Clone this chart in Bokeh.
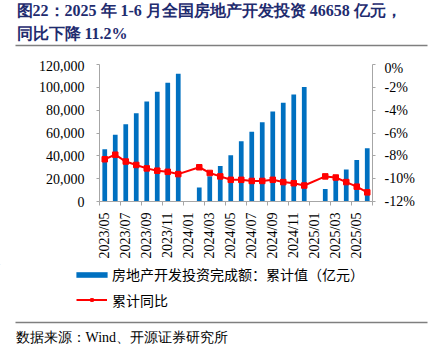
from bokeh.plotting import figure
from bokeh.layouts import column
from bokeh.models import (Range1d, LinearAxis, FixedTicker, NumeralTickFormatter,
                          CustomJSTickFormatter, Label, Legend, LegendItem,
                          ColumnDataSource)
from bokeh.embed import file_html
from bokeh.resources import INLINE

# ---------------- data ----------------
months = ["2023/05", "2023/06", "2023/07", "2023/08", "2023/09", "2023/10", "2023/11", "2023/12",
          "2024/01", "2024/02", "2024/03", "2024/04", "2024/05", "2024/06", "2024/07", "2024/08",
          "2024/09", "2024/10", "2024/11", "2024/12",
          "2025/01", "2025/02", "2025/03", "2025/04", "2025/05", "2025/06"]
invest = [45800, 58400, 67700, 77200, 87500, 96200, 104100, 112000,
          None, 12200, 22100, 31100, 40600, 52700, 61000, 69400,
          78800, 86400, 93700, 100400,
          None, 11000, 20700, 28000, 36400, 46700]
yoy = [-8.3, -7.9, -8.5, -8.8, -9.1, -9.3, -9.4, -9.6,
       None, -9.0, -9.5, -9.8, -10.1, -10.1, -10.2, -10.2,
       -10.1, -10.3, -10.4, -10.6,
       None, -9.8, -9.9, -10.3, -10.7, -11.2]
left_ticks = [0, 20000, 40000, 60000, 80000, 100000, 120000]
right_ticks = [-12, -10, -8, -6, -4, -2, 0]

title1 = "图22：2025 年 1-6 月全国房地产开发投资 46658 亿元，"
title2 = "同比下降 11.2%"
bar_name = "房地产开发投资完成额：累计值（亿元）"
line_name = "累计同比"
source_text = "数据来源：Wind、开源证券研究所"

SERIF = "Liberation Serif"
CJK = "Noto Sans CJK SC"
AXIS_GRAY = "#A6A6A6"
BAR_BLUE = "#0070C0"
LINE_RED = "#FF0000"
TITLE_COLOR = "#1F2C6F"
SEP_GRAY = "#7F7F7F"
W = 431


def blank_fig(h):
    f = figure(frame_width=W, frame_height=h, output_backend="svg", toolbar_location=None,
               title=None,
               x_range=Range1d(0, W), y_range=Range1d(h, 0),
               x_axis_type=None, y_axis_type=None, frame_align=False,
               min_border_left=0, min_border_right=0, min_border_top=0, min_border_bottom=0)
    f.outline_line_color = None
    f.xgrid.visible = False
    f.ygrid.visible = False
    f.background_fill_color = "white"
    f.border_fill_color = "white"
    return f


# ---------------- title block (taller, so the rule sits well inside it) ----------------
HA = 60
pa = blank_fig(HA)
pa.add_layout(Label(x=16, y=9.5, text=title1, text_font=SERIF, text_font_size="16px",
                    text_font_style="bold", text_color=TITLE_COLOR,
                    text_baseline="middle", text_align="left"))
pa.add_layout(Label(x=16, y=32.5, text=title2, text_font=SERIF, text_font_size="16px",
                    text_font_style="bold", text_color=TITLE_COLOR,
                    text_baseline="middle", text_align="left"))
pa.segment(x0=[15], y0=[45], x1=[427], y1=[45], line_color=SEP_GRAY, line_width=1.5)

# ---------------- main chart ----------------
n = len(months)
p = figure(width=W, height=204, output_backend="svg", toolbar_location=None, title=None,
           x_range=Range1d(0, n), y_range=Range1d(0, 120000), frame_align=False,
           min_border_left=99, min_border_right=59, min_border_top=4, min_border_bottom=63)
p.outline_line_color = None
p.xgrid.visible = False
p.ygrid.visible = False
p.background_fill_color = "white"
p.border_fill_color = "white"

xa = p.xaxis[0]
xa.ticker = FixedTicker(ticks=[i + 0.5 for i in range(0, n, 2)],
                        minor_ticks=list(range(0, n + 1, 2)))
xa.formatter = CustomJSTickFormatter(args=dict(months=months),
                                     code="return months[Math.floor(tick)] || '';")
xa.major_label_orientation = 1.5707963
xa.major_tick_out = 0
xa.major_tick_in = 0
xa.minor_tick_out = 4
xa.minor_tick_in = 0
xa.minor_tick_line_color = AXIS_GRAY
xa.axis_line_color = AXIS_GRAY
xa.major_label_standoff = 7
xa.major_label_text_font = SERIF
xa.major_label_text_font_size = "14px"
xa.major_label_text_color = "#000000"

ya = p.yaxis[0]
ya.ticker = FixedTicker(ticks=left_ticks)
ya.formatter = NumeralTickFormatter(format="0,0")
ya.major_tick_out = 3
ya.major_tick_in = 0
ya.minor_tick_line_color = None
ya.axis_line_color = AXIS_GRAY
ya.major_tick_line_color = AXIS_GRAY
ya.major_label_standoff = 12
ya.major_label_text_font = SERIF
ya.major_label_text_font_size = "14px"
ya.major_label_text_color = "#000000"

p.extra_y_ranges = {"pct": Range1d(-12, 0)}
ra = LinearAxis(y_range_name="pct",
                ticker=FixedTicker(ticks=right_ticks),
                formatter=CustomJSTickFormatter(code="return tick.toFixed(0) + '%';"))
ra.major_tick_out = 3
ra.major_tick_in = 0
ra.minor_tick_line_color = None
ra.axis_line_color = AXIS_GRAY
ra.major_tick_line_color = AXIS_GRAY
ra.major_label_standoff = 9
ra.major_label_text_font = SERIF
ra.major_label_text_font_size = "14px"
ra.major_label_text_color = "#000000"
p.add_layout(ra, "right")

bx = [i + 0.5 for i, v in enumerate(invest) if v is not None]
bt = [v for v in invest if v is not None]
src_b = ColumnDataSource(dict(x=bx, top=bt))
p.vbar(x="x", top="top", width=0.45, source=src_b, fill_color=BAR_BLUE, line_color=None)

lx = [i + 0.5 for i, v in enumerate(yoy) if v is not None]
ly = [v for v in yoy if v is not None]
src_l = ColumnDataSource(dict(x=lx, y=ly))
p.line("x", "y", source=src_l, line_color=LINE_RED, line_width=2, y_range_name="pct")
p.scatter("x", "y", source=src_l, marker="square", size=5.5,
          fill_color=LINE_RED, line_color=LINE_RED, y_range_name="pct")

# ---------------- legend + source block ----------------
HC = 88
pc = blank_fig(HC)
# legend sample glyphs (placed off-screen; only the legend shows them)
lb = pc.vbar(x=[-50], top=[-60], bottom=[-70], width=5, fill_color=BAR_BLUE, line_color=None)
ll = pc.line(x=[-60, -50], y=[-60, -60], line_color=LINE_RED, line_width=2)
ls = pc.scatter(x=[-55], y=[-60], marker="square", size=5,
                fill_color=LINE_RED, line_color=LINE_RED)
leg_common = dict(padding=0, margin=0, spacing=0, border_line_color=None,
                  background_fill_alpha=0, label_text_font=CJK,
                  label_text_font_size="14px", label_text_color="#000000",
                  label_height=17)
leg1 = Legend(items=[LegendItem(label=bar_name, renderers=[lb])],
              location=(72, HC - 20), glyph_width=39, glyph_height=7,
              label_standoff=1, **leg_common)
leg2 = Legend(items=[LegendItem(label=line_name, renderers=[ll, ls])],
              location=(76, HC - 45.5), glyph_width=31, glyph_height=7,
              label_standoff=5, **leg_common)
pc.add_layout(leg1)
pc.add_layout(leg2)
pc.segment(x0=[15], y0=[58], x1=[427], y1=[58], line_color=SEP_GRAY, line_width=1.5)
pc.add_layout(Label(x=15, y=72.5, text=source_text, text_font=SERIF, text_font_size="14px",
                    text_color="#000000", text_baseline="middle", text_align="left"))

layout = column(pa, p, pc, spacing=0)
open("out.html", "w").write(file_html(layout, INLINE))
